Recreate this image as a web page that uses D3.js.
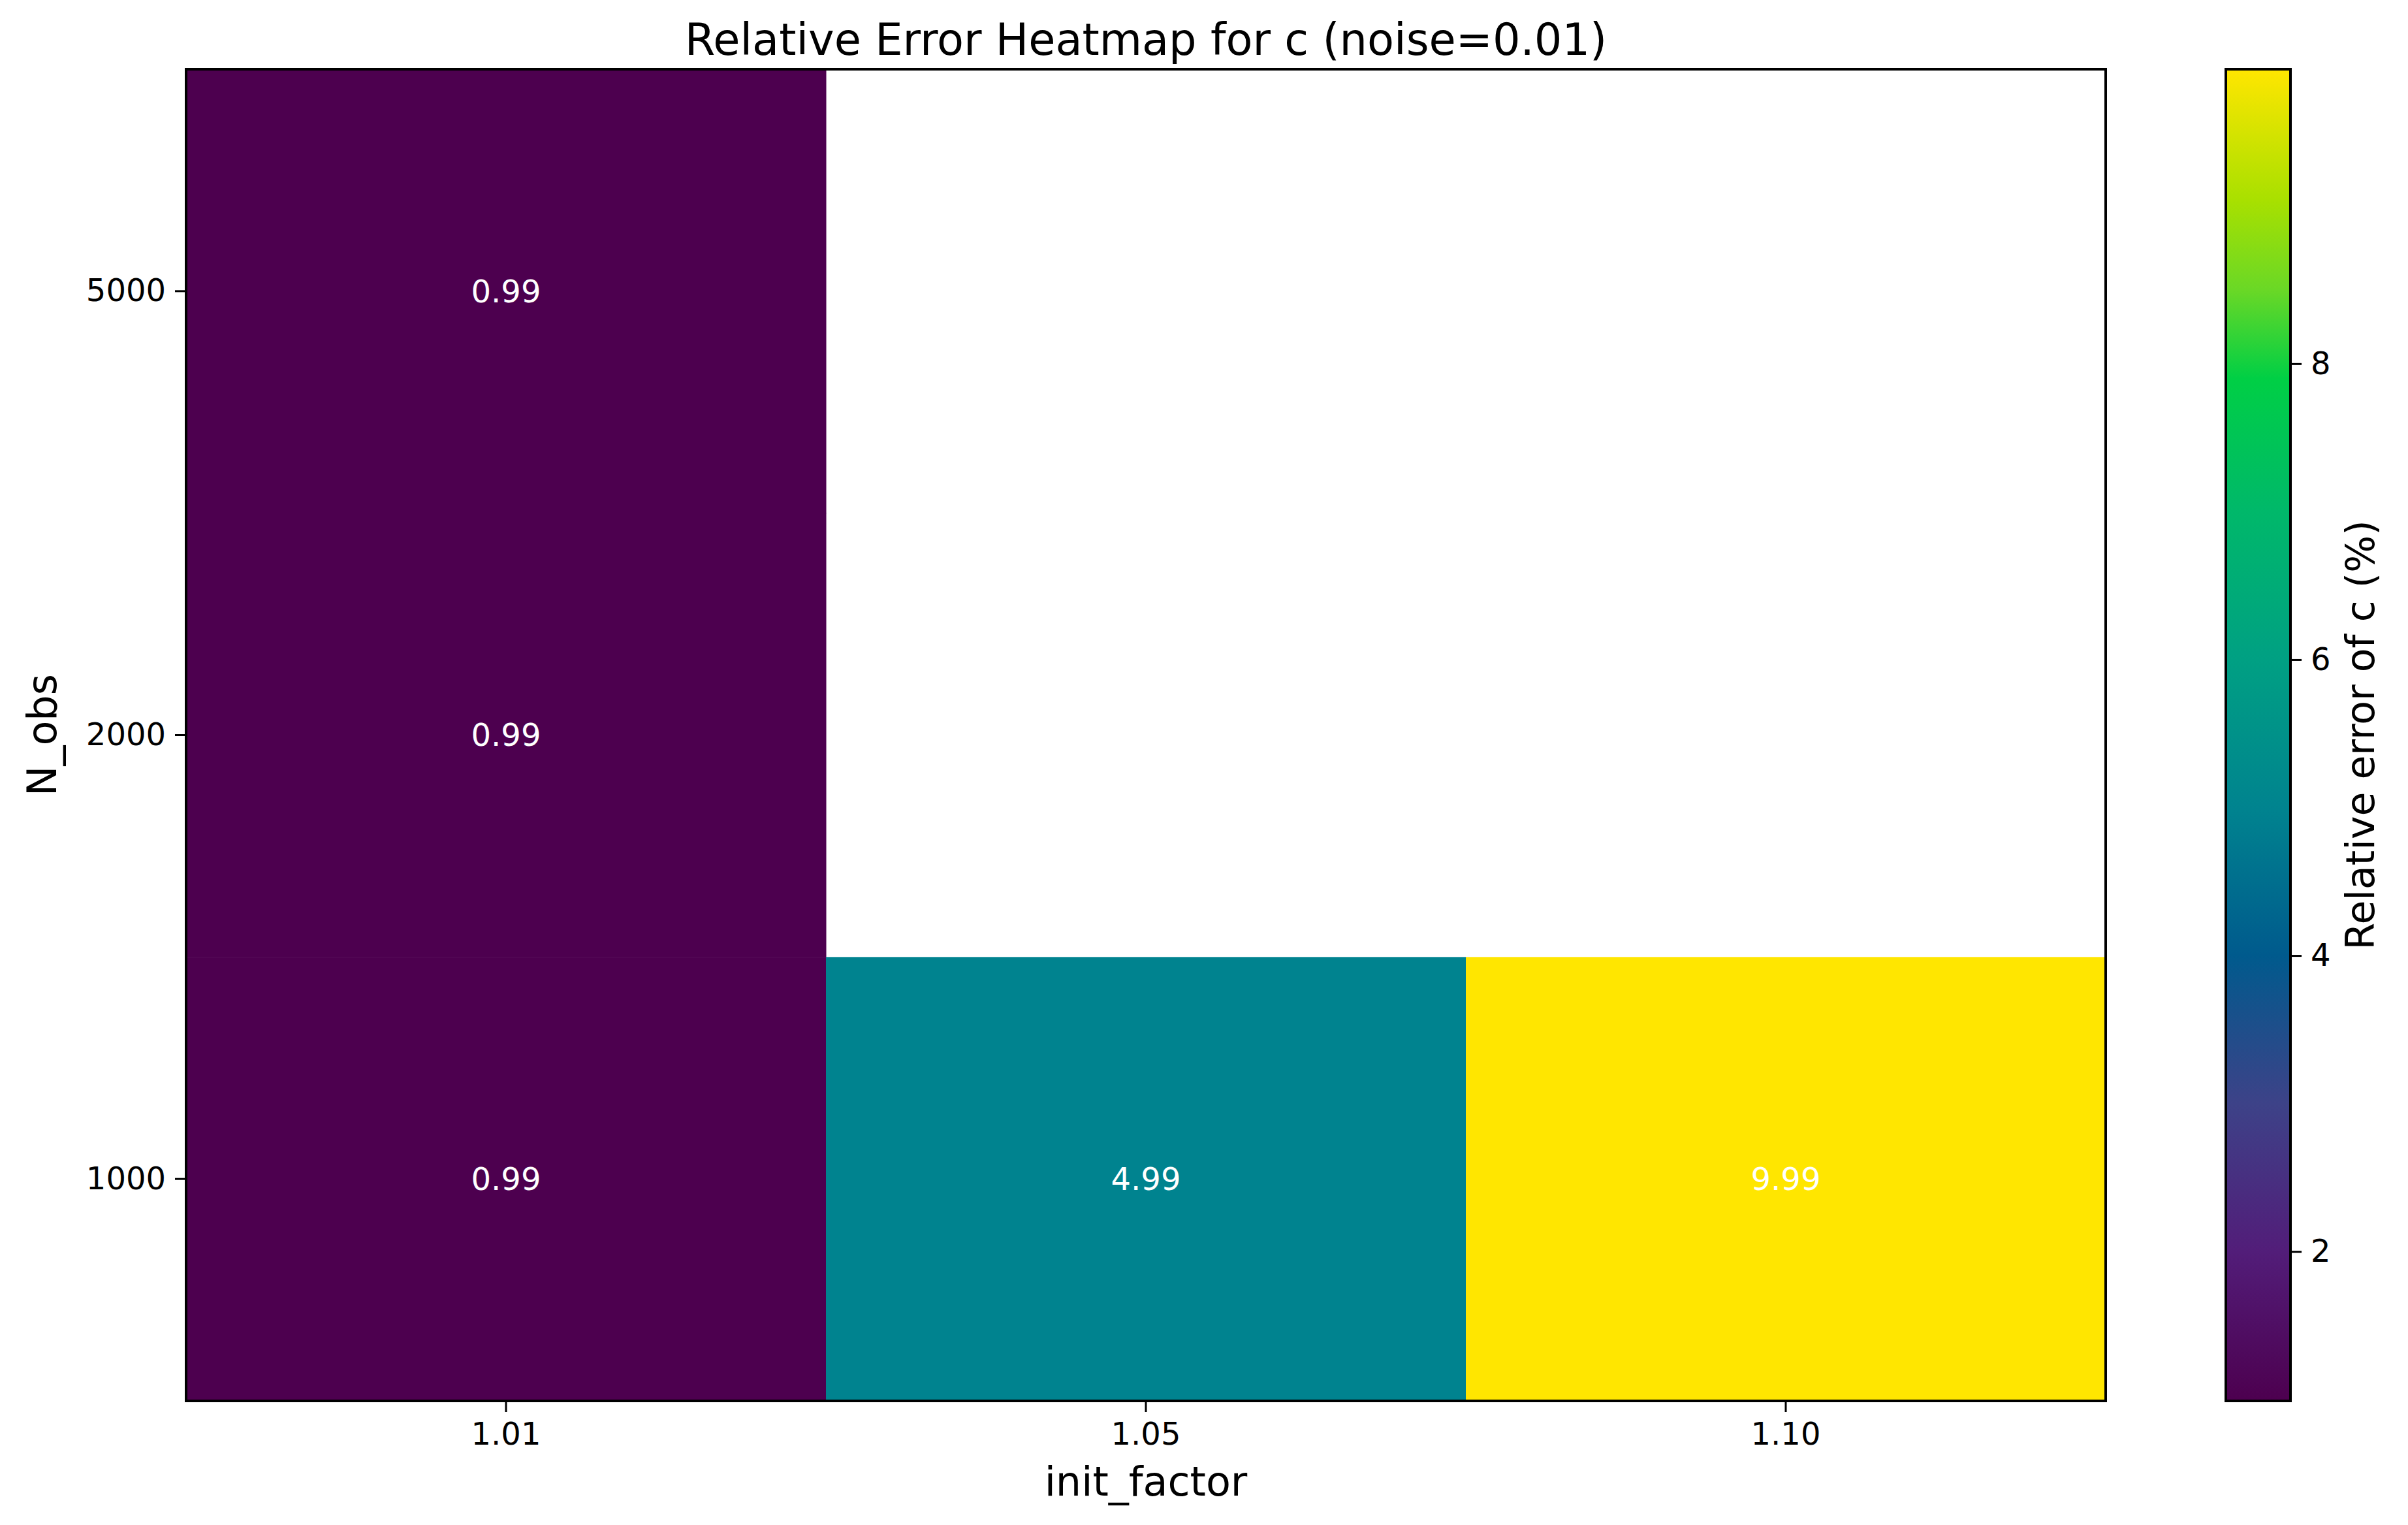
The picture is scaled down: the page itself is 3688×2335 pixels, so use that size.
<!DOCTYPE html>
<html><head><meta charset="utf-8">
<script src="https://cdn.jsdelivr.net/npm/d3@7"></script>
<style>body{margin:0;background:#fff}svg{display:block}text{font-family:"DejaVu Sans",sans-serif}</style>
</head><body>
<svg id="c" width="3688" height="2335"></svg>
<script>
const initFactors = ["1.01", "1.05", "1.10"];
const nObs = ["5000", "2000", "1000"];
// values[rowIndex][colIndex]; null = missing (white)
const row5000 = [0.99, null, null];
const row2000 = [0.99, null, null];
const row1000 = [0.99, 4.99, 9.99];
const colorTicks = [2, 4, 6, 8];
const colorDomain = [0.99, 9.99];
// colour stops (value -> colour)
const stopValues = [0.99, 2.0, 3.0, 4.0, 4.99, 6.0, 7.0, 7.9, 8.5, 9.1, 9.99];
const stopColors = ["#4d004f", "#521d79", "#3d4288", "#005a8d", "#00838f", "#00a083", "#00b86a", "#00cf45", "#6ad826", "#a8e000", "#ffe600"];

const rows = [row5000, row2000, row1000];
const cells = [];
rows.forEach((r, i) => r.forEach((v, j) => cells.push({n: nObs[i], f: initFactors[j], v})));

const W = 3688, H = 2335;
const m = {left: 285, right: 3225, top: 106, bottom: 2145};
const svg = d3.select("#c");
svg.append("rect").attr("width", W).attr("height", H).attr("fill", "#fff");

const x = d3.scaleBand().domain(initFactors).range([m.left, m.right]);
const y = d3.scaleBand().domain(nObs).range([m.top, m.bottom]);
const color = d3.scaleLinear().domain(stopValues).range(stopColors).interpolate(d3.interpolateRgb).clamp(true);

const g = svg.append("g");
g.selectAll("rect.cell").data(cells.filter(d => d.v !== null)).join("rect")
  .attr("x", d => x(d.f)).attr("y", d => y(d.n))
  .attr("width", x.bandwidth() + 0.5).attr("height", y.bandwidth() + 0.5)
  .attr("fill", d => color(d.v));
g.selectAll("text.ann").data(cells.filter(d => d.v !== null)).join("text")
  .attr("x", d => x(d.f) + x.bandwidth() / 2).attr("y", d => y(d.n) + y.bandwidth() / 2)
  .attr("dy", "0.35em").attr("text-anchor", "middle").attr("fill", "#fff")
  .attr("font-size", 48).text(d => d.v.toFixed(2));

const tickLen = 17, fs = 48;
const xAxis = d3.axisBottom(x).tickSize(tickLen).tickPadding(14);
const gx = svg.append("g").attr("transform", `translate(0,${m.bottom})`).call(xAxis);
const yAxis = d3.axisLeft(y).tickSize(tickLen).tickPadding(14);
const gy = svg.append("g").attr("transform", `translate(${m.left},0)`).call(yAxis);
[gx, gy].forEach(a => {
  a.select(".domain").remove();
  a.selectAll(".tick line").attr("stroke", "#000").attr("stroke-width", 3);
  a.selectAll(".tick text").attr("font-size", fs).attr("fill", "#000").attr("font-family", "DejaVu Sans");
});
gx.selectAll(".tick text").attr("dy", "0.76em");

svg.append("rect").attr("x", m.left).attr("y", m.top).attr("width", m.right - m.left)
  .attr("height", m.bottom - m.top).attr("fill", "none").attr("stroke", "#000").attr("stroke-width", 4);

svg.append("text").attr("x", (m.left + m.right) / 2).attr("y", 84).attr("text-anchor", "middle")
  .attr("font-size", 67).text("Relative Error Heatmap for c (noise=0.01)");
svg.append("text").attr("x", (m.left + m.right) / 2).attr("y", 2290).attr("text-anchor", "middle")
  .attr("font-size", 62).text("init_factor");
svg.append("text").attr("transform", `translate(86,${(m.top + m.bottom) / 2}) rotate(-90)`)
  .attr("text-anchor", "middle").attr("font-size", 62).text("N_obs");

// colorbar
const cb = {x: 3409, w: 99, top: m.top, bottom: m.bottom};
const cy = d3.scaleLinear().domain(colorDomain).range([cb.bottom, cb.top]);
const defs = svg.append("defs");
const grad = defs.append("linearGradient").attr("id", "vg").attr("gradientUnits", "userSpaceOnUse")
  .attr("x1", 0).attr("y1", cb.bottom).attr("x2", 0).attr("y2", cb.top);
stopValues.forEach((v, i) => grad.append("stop")
  .attr("offset", (cb.bottom - cy(v)) / (cb.bottom - cb.top)).attr("stop-color", stopColors[i]));
svg.append("rect").attr("x", cb.x).attr("y", cb.top).attr("width", cb.w).attr("height", cb.bottom - cb.top)
  .attr("fill", "url(#vg)").attr("stroke", "#000").attr("stroke-width", 4);
const gc = svg.append("g").attr("transform", `translate(${cb.x + cb.w},0)`)
  .call(d3.axisRight(cy).tickValues(colorTicks).tickSize(tickLen).tickPadding(14).tickFormat(d3.format("d")));
gc.select(".domain").remove();
gc.selectAll(".tick line").attr("stroke", "#000").attr("stroke-width", 3);
gc.selectAll(".tick text").attr("font-size", fs).attr("fill", "#000").attr("font-family", "DejaVu Sans");
svg.append("text").attr("transform", `translate(3636,${(m.top + m.bottom) / 2}) rotate(-90)`)
  .attr("text-anchor", "middle").attr("font-size", 60).text("Relative error of c (%)");
</script>
</body></html>
